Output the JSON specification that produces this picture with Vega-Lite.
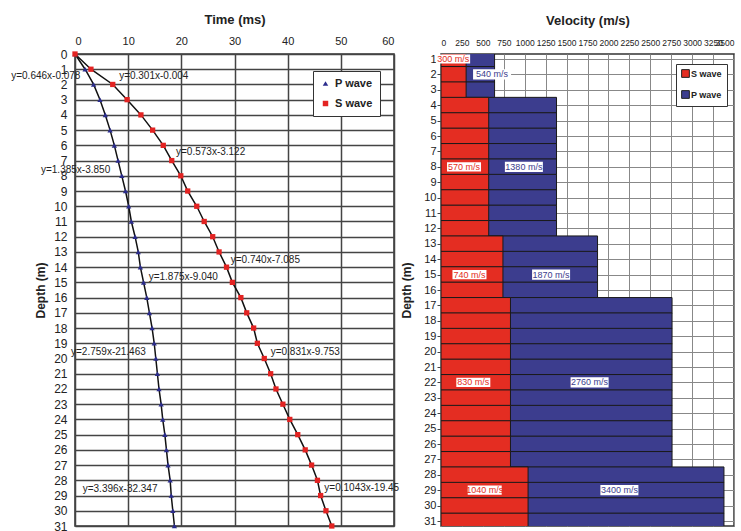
{
"$schema":"https://vega.github.io/schema/vega-lite/v6.json",
"background":"white",
"padding":{"left":10,"top":12,"right":2,"bottom":2},
"spacing":0,
"config":{"font":"Liberation Sans","view":{"stroke":"#333","strokeWidth":1.5},"axis":{"labelColor":"#222","titleColor":"#222","domain":false,"ticks":false}},
"datasets":{
"times":[
{"wave":"P wave","d":0,"t":0},{"wave":"P wave","d":1,"t":1.9},{"wave":"P wave","d":2,"t":3.5},{"wave":"P wave","d":3,"t":4.7},{"wave":"P wave","d":4,"t":5.7},{"wave":"P wave","d":5,"t":6.6},{"wave":"P wave","d":6,"t":7.4},{"wave":"P wave","d":7,"t":8.1},{"wave":"P wave","d":8,"t":8.8},{"wave":"P wave","d":9,"t":9.5},{"wave":"P wave","d":10,"t":10.1},{"wave":"P wave","d":11,"t":10.6},{"wave":"P wave","d":12,"t":11.3},{"wave":"P wave","d":13,"t":11.9},{"wave":"P wave","d":14,"t":12.3},{"wave":"P wave","d":15,"t":12.9},{"wave":"P wave","d":16,"t":13.5},{"wave":"P wave","d":17,"t":14.0},{"wave":"P wave","d":18,"t":14.5},{"wave":"P wave","d":19,"t":14.9},{"wave":"P wave","d":20,"t":15.2},{"wave":"P wave","d":21,"t":15.5},{"wave":"P wave","d":22,"t":15.8},{"wave":"P wave","d":23,"t":16.2},{"wave":"P wave","d":24,"t":16.5},{"wave":"P wave","d":25,"t":16.9},{"wave":"P wave","d":26,"t":17.2},{"wave":"P wave","d":27,"t":17.5},{"wave":"P wave","d":28,"t":17.9},{"wave":"P wave","d":29,"t":18.1},{"wave":"P wave","d":30,"t":18.4},{"wave":"P wave","d":31,"t":18.7},
{"wave":"S wave","d":0,"t":0},{"wave":"S wave","d":1,"t":3.0},{"wave":"S wave","d":2,"t":7.1},{"wave":"S wave","d":3,"t":9.8},{"wave":"S wave","d":4,"t":12.4},{"wave":"S wave","d":5,"t":14.6},{"wave":"S wave","d":6,"t":16.6},{"wave":"S wave","d":7,"t":18.2},{"wave":"S wave","d":8,"t":19.9},{"wave":"S wave","d":9,"t":21.2},{"wave":"S wave","d":10,"t":22.9},{"wave":"S wave","d":11,"t":24.3},{"wave":"S wave","d":12,"t":25.9},{"wave":"S wave","d":13,"t":27.1},{"wave":"S wave","d":14,"t":28.5},{"wave":"S wave","d":15,"t":29.6},{"wave":"S wave","d":16,"t":31.2},{"wave":"S wave","d":17,"t":32.3},{"wave":"S wave","d":18,"t":33.6},{"wave":"S wave","d":19,"t":34.3},{"wave":"S wave","d":20,"t":35.6},{"wave":"S wave","d":21,"t":36.8},{"wave":"S wave","d":22,"t":37.8},{"wave":"S wave","d":23,"t":39.1},{"wave":"S wave","d":24,"t":40.4},{"wave":"S wave","d":25,"t":41.9},{"wave":"S wave","d":26,"t":43.3},{"wave":"S wave","d":27,"t":44.5},{"wave":"S wave","d":28,"t":45.6},{"wave":"S wave","d":29,"t":46.2},{"wave":"S wave","d":30,"t":47.2},{"wave":"S wave","d":31,"t":48.3}
],
"eqs":[
{"label":"y=0.646x-0.078","t":-12.0,"d":1.45},
{"label":"y=0.301x-0.004","t":8.3,"d":1.45},
{"label":"y=0.573x-3.122","t":19.0,"d":6.45},
{"label":"y=1.385x-3.850","t":-6.4,"d":7.6},
{"label":"y=0.740x-7.085","t":29.3,"d":13.5},
{"label":"y=1.875x-9.040","t":13.85,"d":14.65},
{"label":"y=2.759x-21.463","t":-0.75,"d":19.56},
{"label":"y=0.831x-9.753","t":36.8,"d":19.6},
{"label":"y=3.396x-32.347","t":1.45,"d":28.6},
{"label":"y=0.1043x-19.45","t":46.9,"d":28.5}
],
"bars":[
{"wave":"P wave","d":1,"v":640},{"wave":"P wave","d":2,"v":640},{"wave":"P wave","d":3,"v":640},{"wave":"P wave","d":4,"v":1380},{"wave":"P wave","d":5,"v":1380},{"wave":"P wave","d":6,"v":1380},{"wave":"P wave","d":7,"v":1380},{"wave":"P wave","d":8,"v":1380},{"wave":"P wave","d":9,"v":1380},{"wave":"P wave","d":10,"v":1380},{"wave":"P wave","d":11,"v":1380},{"wave":"P wave","d":12,"v":1380},{"wave":"P wave","d":13,"v":1870},{"wave":"P wave","d":14,"v":1870},{"wave":"P wave","d":15,"v":1870},{"wave":"P wave","d":16,"v":1870},{"wave":"P wave","d":17,"v":2760},{"wave":"P wave","d":18,"v":2760},{"wave":"P wave","d":19,"v":2760},{"wave":"P wave","d":20,"v":2760},{"wave":"P wave","d":21,"v":2760},{"wave":"P wave","d":22,"v":2760},{"wave":"P wave","d":23,"v":2760},{"wave":"P wave","d":24,"v":2760},{"wave":"P wave","d":25,"v":2760},{"wave":"P wave","d":26,"v":2760},{"wave":"P wave","d":27,"v":2760},{"wave":"P wave","d":28,"v":3380},{"wave":"P wave","d":29,"v":3380},{"wave":"P wave","d":30,"v":3380},{"wave":"P wave","d":31,"v":3380},
{"wave":"S wave","d":1,"v":300},{"wave":"S wave","d":2,"v":300},{"wave":"S wave","d":3,"v":300},{"wave":"S wave","d":4,"v":570},{"wave":"S wave","d":5,"v":570},{"wave":"S wave","d":6,"v":570},{"wave":"S wave","d":7,"v":570},{"wave":"S wave","d":8,"v":570},{"wave":"S wave","d":9,"v":570},{"wave":"S wave","d":10,"v":570},{"wave":"S wave","d":11,"v":570},{"wave":"S wave","d":12,"v":570},{"wave":"S wave","d":13,"v":740},{"wave":"S wave","d":14,"v":740},{"wave":"S wave","d":15,"v":740},{"wave":"S wave","d":16,"v":740},{"wave":"S wave","d":17,"v":830},{"wave":"S wave","d":18,"v":830},{"wave":"S wave","d":19,"v":830},{"wave":"S wave","d":20,"v":830},{"wave":"S wave","d":21,"v":830},{"wave":"S wave","d":22,"v":830},{"wave":"S wave","d":23,"v":830},{"wave":"S wave","d":24,"v":830},{"wave":"S wave","d":25,"v":830},{"wave":"S wave","d":26,"v":830},{"wave":"S wave","d":27,"v":830},{"wave":"S wave","d":28,"v":1040},{"wave":"S wave","d":29,"v":1040},{"wave":"S wave","d":30,"v":1040},{"wave":"S wave","d":31,"v":1040}
],
"vlabels":[
{"wave":"S wave","label":"300 m/s","d":1,"v":145},
{"wave":"P wave","label":"540 m/s","d":2,"v":610},
{"wave":"S wave","label":"570 m/s","d":8,"v":275},
{"wave":"P wave","label":"1380 m/s","d":8,"v":990},
{"wave":"S wave","label":"740 m/s","d":15,"v":340},
{"wave":"P wave","label":"1870 m/s","d":15,"v":1315},
{"wave":"S wave","label":"830 m/s","d":22,"v":386},
{"wave":"P wave","label":"2760 m/s","d":22,"v":1775},
{"wave":"S wave","label":"1040 m/s","d":29,"v":522},
{"wave":"P wave","label":"3400 m/s","d":29,"v":2131}
]
},
"resolve":{"scale":{"color":"independent","shape":"independent"},"legend":{"color":"independent","shape":"independent"}},
"hconcat":[
{
"width":319,"height":472,
"data":{"name":"times"},
"encoding":{
"x":{"field":"t","type":"quantitative","scale":{"domain":[0,60],"nice":false},
"axis":{"orient":"top","title":"Time (ms)","values":[0,10,20,30,40,50,60],"labelFontSize":11,"labelPadding":8,"titleFontSize":13,"titleFontWeight":"bold","titlePadding":9,"grid":true,"gridColor":"#444","gridWidth":1.5,"gridOpacity":1}},
"y":{"field":"d","type":"quantitative","scale":{"domain":[0,31],"reverse":true,"nice":false,"zero":false},
"axis":{"title":"Depth (m)","values":[0,1,2,3,4,5,6,7,8,9,10,11,12,13,14,15,16,17,18,19,20,21,22,23,24,25,26,27,28,29,30,31],"labelFontSize":12,"labelPadding":8,"titleFontSize":12,"titleFontWeight":"bold","titlePadding":6,"grid":true,"gridColor":"#444","gridWidth":1.5,"gridOpacity":1}}
},
"layer":[
{"mark":{"type":"line","color":"#111","strokeWidth":1.5},"encoding":{"detail":{"field":"wave"},"order":{"field":"d"}}},
{"mark":{"type":"point","filled":true,"opacity":1,"size":28},
"encoding":{
"color":{"field":"wave","type":"nominal","scale":{"domain":["P wave","S wave"],"range":["#2b2c8c","#e32322"]},"legend":{"title":null,"orient":"none","legendX":238,"legendY":17,"fillColor":"white","strokeColor":"#333","padding":7,"labelFontSize":11,"labelFontWeight":"bold","labelColor":"#222","symbolSize":30,"rowPadding":8}},
"shape":{"field":"wave","type":"nominal","scale":{"domain":["P wave","S wave"],"range":["triangle-up","square"]},"legend":{"title":null,"orient":"none","legendX":238,"legendY":17}}
}},
{"data":{"name":"eqs"},"mark":{"type":"text","align":"left","baseline":"middle","fontSize":10,"color":"#222"},
"encoding":{"text":{"field":"label"},"x":{"field":"t","type":"quantitative"},"y":{"field":"d","type":"quantitative"}}}
]
},
{
"width":293,"height":472,
"encoding":{
"x":{"field":"v","type":"quantitative","stack":null,"scale":{"domain":[0,3500],"nice":false},
"axis":{"orient":"top","title":"Velocity (m/s)","format":"d","values":[0,250,500,750,1000,1250,1500,1750,2000,2250,2500,2750,3000,3250,3500],"labelOverlap":false,"labelFontSize":8.5,"labelPadding":7,"titleFontSize":13,"titleFontWeight":"bold","titlePadding":11,"grid":true,"gridColor":"#888","gridWidth":1,"gridOpacity":1}},
"y":{"field":"d","type":"quantitative","scale":{"domain":[1,31],"reverse":true,"nice":false,"zero":false},
"axis":{"title":"Depth (m)","values":[1,2,3,4,5,6,7,8,9,10,11,12,13,14,15,16,17,18,19,20,21,22,23,24,25,26,27,28,29,30,31],"labelFontSize":11,"labelPadding":1,"ticks":true,"tickSize":4,"tickColor":"#444","titleFontSize":12,"titleFontWeight":"bold","titlePadding":10,"grid":true,"gridColor":"#888","gridWidth":1,"gridOpacity":1}}
},
"layer":[
{"data":{"name":"bars"},"mark":{"type":"bar","orient":"horizontal","height":15.7,"stroke":"#1a1a1a","strokeWidth":1,"clip":true,"opacity":1},
"encoding":{"color":{"field":"wave","type":"nominal","scale":{"domain":["S wave","P wave"],"range":["#e42d22","#3c3d8e"]},
"legend":{"title":null,"orient":"none","legendX":235,"legendY":10,"fillColor":"white","strokeColor":"#333","padding":5,"labelFontSize":9,"labelFontWeight":"bold","labelColor":"#222","symbolType":"square","symbolSize":60,"symbolStrokeColor":"#222","symbolStrokeWidth":1,"rowPadding":8,"labelOffset":1}}}},
{"data":{"name":"vlabels"},"mark":{"type":"point","shape":"M-1,-0.27H1V0.27H-1Z","filled":true,"color":"white","opacity":1,"strokeWidth":0},
"encoding":{"size":{"condition":{"test":"datum.wave==='P wave'","value":1444},"value":1156}}},
{"data":{"name":"vlabels"},"mark":{"type":"text","baseline":"middle","align":"center","fontSize":9},
"encoding":{"text":{"field":"label"},"color":{"field":"wave","type":"nominal","legend":null}}}
]
}
]
}
